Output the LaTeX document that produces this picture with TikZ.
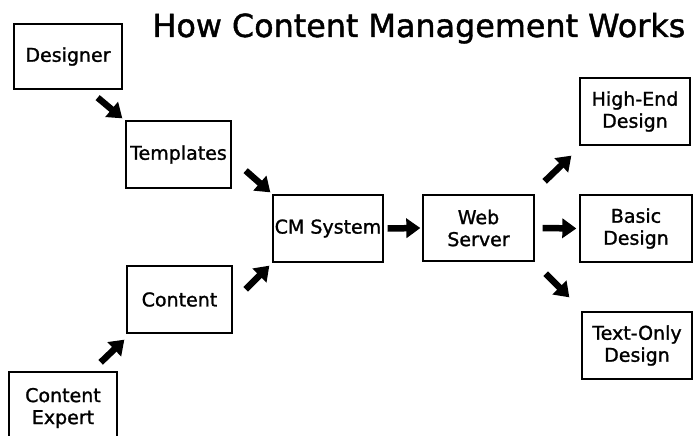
\documentclass[tikz,border=0pt]{standalone}
\usepackage{fontspec}
\setmainfont{DejaVu Sans}[AutoFakeBold=1.3]
\usetikzlibrary{arrows.meta,calc}
\begin{document}
\begin{tikzpicture}[x=1pt,y=-1pt,
  box/.style={draw=black,line width=1.3pt,minimum width=#1,minimum height=67pt,inner sep=0pt,align=center,font=\fontsize{19}{22}\selectfont\bfseries},
  box/.default=108pt,
  flow/.style={line width=6.5pt,-{Triangle[length=14pt,width=19pt]}},
  every node/.style={text=black}]
\useasboundingbox[fill=white] (0,0) rectangle (694,436);
\node[anchor=base west,font=\fontsize{31.8}{36}\selectfont\bfseries] (title) at (149,37) {How Content Management Works};
\node[box=108pt,minimum height=65pt] (des) at (68,56.5) {Designer};
\node[box=105pt] (tmp) at (178.5,154.5) {Templates};
\node[box=105pt] (con) at (179.5,299.5) {Content};
\node[box=108pt,minimum height=72pt] (exp) at (63,408) {Content\\Expert};
\node[box=110pt] (cms) at (328,228.5) {CM System};
\node[box=111pt,minimum height=66pt] (web) at (478.5,228) {Web\\Server};
\node[box=110pt] (high) at (635,111.5) {High-End\\Design};
\node[box=112pt] (basic) at (636,228.5) {Basic\\Design};
\node[box=110pt] (text) at (637,345.5) {Text-Only\\Design};
\draw[flow] ($(des.south east)+(-25,8)$) -- ($(tmp.north west)+(-3,-2)$);
\draw[flow] ($(tmp.south east)+(14,-18)$) -- ($(cms.north west)+(-2,-2)$);
\draw[flow] ($(con.north east)+(13,24)$) -- ($(cms.south west)+(-3,3)$);
\draw[flow] ($(exp.north east)+(-17,-9)$) -- ($(con.south west)+(-2,6)$);
\draw[flow] ($(cms.east)+(4,0)$) -- ($(web.west)+(-2,0)$);
\draw[flow] ($(web.east)+(8,0)$) -- ($(basic.west)+(-3,0)$);
\draw[flow] ($(web.north east)+(10,-13)$) -- ($(high.south west)+(-8,10)$);
\draw[flow] ($(web.south east)+(11,12)$) -- ($(text.north west)+(-12,-14)$);
\end{tikzpicture}
\end{document}
